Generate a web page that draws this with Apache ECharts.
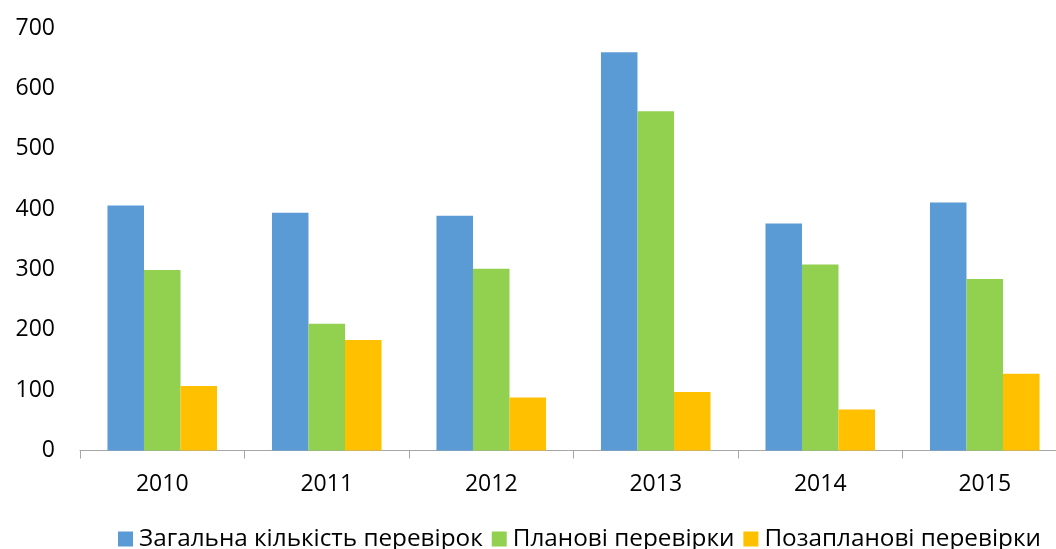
<!DOCTYPE html>
<html>
<head>
    <meta charset="utf-8">
    <title>Перевірки</title>
    <script src="https://cdn.jsdelivr.net/npm/echarts@6/dist/echarts.min.js"></script>
    <style>
        html,body{
            height: 100%;
            margin: 0;
            padding: 0;
            background: #fff;
        }
    </style>
</head>
<body>
    <div id="main" style="width: 1056px;height:549px;"></div>
    <script type="text/javascript">
    // дані з графіка
    var years = ['2010', '2011', '2012', '2013', '2014', '2015'];
    var totalChecks = [406, 394, 389, 660, 376, 411];
    var plannedChecks = [299, 210, 301, 562, 308, 284];
    var unplannedChecks = [107, 183, 88, 97, 68, 127];
    var seriesNames = ['Загальна кількість перевірок', 'Планові перевірки', 'Позапланові перевірки'];

    var font = '"Open Sans", "DejaVu Sans", sans-serif';

    var myChart = echarts.init(document.getElementById('main'));

    var option = {
        animation: false,
        color: ['#5B9BD5', '#92D050', '#FFC000'],
        textStyle: { fontFamily: font },
        grid: {
            outerBoundsMode: 'none',
            left: 80,
            right: -11,
            top: 28,
            bottom: 98.5,
            containLabel: false
        },
        legend: {
            data: seriesNames,
            left: 113,
            bottom: -7,
            itemWidth: 15,
            itemHeight: 15,
            itemGap: 9,
            icon: 'rect',
            textStyle: {
                fontFamily: font,
                fontSize: 24.3,
                color: '#000',
                padding: [0, 0, 0, 1]
            }
        },
        xAxis: {
            type: 'category',
            data: years,
            axisLine: { lineStyle: { color: '#a6a6a6', width: 1 } },
            axisTick: { show: true, length: 8, lineStyle: { color: '#a6a6a6' } },
            axisLabel: {
                color: '#000',
                fontSize: 23,
                fontFamily: font,
                margin: 22
            }
        },
        yAxis: {
            type: 'value',
            min: 0,
            max: 700,
            interval: 100,
            axisLine: { show: false },
            axisTick: { show: false },
            splitLine: { show: false },
            axisLabel: {
                color: '#000',
                fontSize: 23,
                fontFamily: font,
                margin: 25
            }
        },
        series: [
            {
                name: seriesNames[0],
                type: 'bar',
                barGap: '0%',
                barCategoryGap: '33.4%',
                data: totalChecks
            },
            {
                name: seriesNames[1],
                type: 'bar',
                barGap: '0%',
                barCategoryGap: '33.4%',
                data: plannedChecks
            },
            {
                name: seriesNames[2],
                type: 'bar',
                barGap: '0%',
                barCategoryGap: '33.4%',
                data: unplannedChecks
            }
        ]
    };

    myChart.setOption(option);
    </script>
</body>
</html>
